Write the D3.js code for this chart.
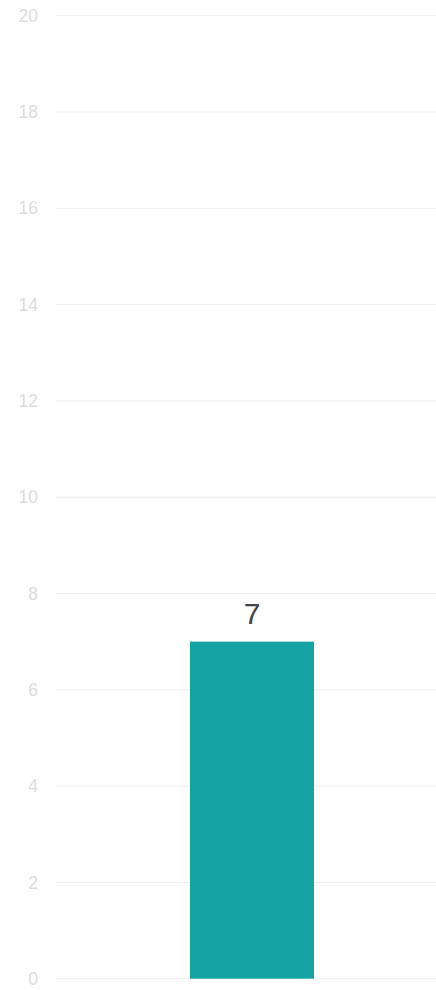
<!DOCTYPE html>
<html>
<head>
<meta charset="utf-8">
<script src="https://cdn.jsdelivr.net/npm/d3@7"></script>
<style>
  html, body { margin: 0; padding: 0; background: #fff; }
  svg { display: block; font-family: "Liberation Sans", Arial, sans-serif; }
</style>
</head>
<body>
<svg class="container"></svg>
<script>
// data
const categories = ["Total"];
const values = [7];
const yTicks = [0, 2, 4, 6, 8, 10, 12, 14, 16, 18, 20];

const width = 436, height = 990;
const margin = { left: 55, right: -13, top: 15.7, bottom: 11.3 };
const innerWidth = width - margin.left - margin.right;
const innerHeight = height - margin.top - margin.bottom;

const svg = d3.select(".container")
  .attr("width", width)
  .attr("height", height);

const chartGroup = svg.append("g")
  .attr("transform", `translate(${margin.left},${margin.top})`);

// scales
const xScale = d3.scaleBand()
  .domain(categories)
  .range([0, innerWidth])
  .paddingInner(0.521)
  .paddingOuter(0.521);
const yScale = d3.scaleLinear()
  .domain([0, 20])
  .range([innerHeight, 0]);

// grid lines
chartGroup.selectAll(".grid")
  .data(yTicks)
  .join("line")
  .attr("class", "grid")
  .attr("x1", 0)
  .attr("x2", innerWidth)
  .attr("y1", d => yScale(d))
  .attr("y2", d => yScale(d))
  .attr("stroke", "#efefef")
  .attr("stroke-width", 1);

// y axis labels
const yAxis = chartGroup.append("g")
  .call(d3.axisLeft(yScale).tickValues(yTicks).tickSize(0).tickPadding(17));
yAxis.select(".domain").remove();
yAxis.selectAll("text")
  .attr("fill", "#dcdcdc")
  .style("font-size", "17.5px")
  .style("font-family", "\"Liberation Sans\", Arial, sans-serif");

// bars
chartGroup.selectAll(".bar")
  .data(values)
  .join("rect")
  .attr("class", "bar")
  .attr("x", (d, i) => xScale(categories[i]))
  .attr("y", d => yScale(d))
  .attr("width", xScale.bandwidth())
  .attr("height", d => innerHeight - yScale(d))
  .attr("fill", "#15a3a4");

// value labels
chartGroup.selectAll(".bar-label")
  .data(values)
  .join("text")
  .attr("class", "bar-label")
  .attr("x", (d, i) => xScale(categories[i]) + xScale.bandwidth() / 2)
  .attr("y", d => yScale(d) - 18)
  .attr("text-anchor", "middle")
  .attr("fill", "#444")
  .style("font-size", "30px")
  .text(d => d);
</script>
</body>
</html>
